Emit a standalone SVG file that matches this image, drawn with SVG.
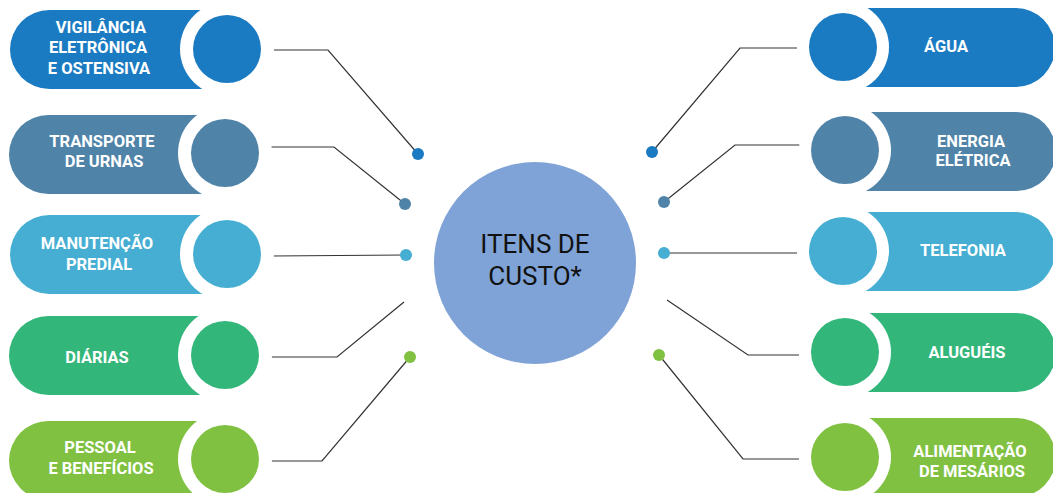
<svg xmlns="http://www.w3.org/2000/svg" width="1053" height="493" viewBox="0 0 1053 493">
<style>
.t{font-family:Roboto,"Liberation Sans",sans-serif;font-weight:700;font-size:16.5px;fill:#ffffff;text-anchor:middle}
.c{font-family:Roboto,"Liberation Sans",sans-serif;font-size:26px;fill:#111111;text-anchor:middle}
.ln{fill:none;stroke:#333333;stroke-width:1.2}
.ring{fill:#ffffff}
.b1{fill:#1b7bc2}.b2{fill:#4f83a8}.b3{fill:#45aed2}.b4{fill:#32b67a}.b5{fill:#80c142}
</style>
<rect width="1053" height="493" fill="#ffffff"/>
<g id="center">
<circle cx="535" cy="263" r="101" fill="#7fa3d6"/>
<text class="c" x="535" y="253">ITENS DE</text>
<text class="c" x="535" y="285">CUSTO*</text>
</g>
<g id="connectors">
<polyline class="ln" points="266,50 328,50 418,154"/>
<polyline class="ln" points="268,147 334,147 405,204"/>
<polyline class="ln" points="272,256 405,255"/>
<polyline class="ln" points="270,357 337,357 404,302"/>
<polyline class="ln" points="270,461 322,461 410,357"/>
<polyline class="ln" points="652,152 740,48 797,48"/>
<polyline class="ln" points="664,202 735,145 802,145"/>
<polyline class="ln" points="664,253 802,253"/>
<polyline class="ln" points="667,300 748,355 799,355"/>
<polyline class="ln" points="659,355 743,459 799,459"/>
<circle class="b1" cx="418" cy="154" r="6"/>
<circle class="b2" cx="405" cy="204" r="6"/>
<circle class="b3" cx="406" cy="255" r="6"/>
<circle class="b5" cx="410" cy="357" r="6"/>
<circle class="b1" cx="652" cy="152" r="6"/>
<circle class="b2" cx="664" cy="202" r="6"/>
<circle class="b3" cx="664" cy="253" r="6"/>
<circle class="b5" cx="659" cy="355" r="6"/>
</g>
<g id="vigilancia">
<rect class="b1" x="10" y="10" width="240" height="79" rx="39.5"/>
<circle class="ring" cx="227" cy="49" r="47"/>
<circle class="b1" cx="227" cy="49" r="34"/>
<text class="t" x="101" y="33">VIGILÂNCIA</text>
<text class="t" x="98" y="53">ELETRÔNICA</text>
<text class="t" x="99" y="74">E OSTENSIVA</text>
</g>
<g id="transporte">
<rect class="b2" x="9" y="115" width="240" height="79" rx="39.5"/>
<circle class="ring" cx="225" cy="153" r="47"/>
<circle class="b2" cx="225" cy="153" r="34"/>
<text class="t" x="102" y="147">TRANSPORTE</text>
<text class="t" x="104" y="167">DE URNAS</text>
</g>
<g id="manutencao">
<rect class="b3" x="10" y="215" width="240" height="79" rx="39.5"/>
<circle class="ring" cx="227" cy="254" r="47"/>
<circle class="b3" cx="227" cy="254" r="34"/>
<text class="t" x="97" y="249">MANUTENÇÃO</text>
<text class="t" x="99" y="270">PREDIAL</text>
</g>
<g id="diarias">
<rect class="b4" x="9" y="316" width="240" height="79" rx="39.5"/>
<circle class="ring" cx="225" cy="355" r="47"/>
<circle class="b4" cx="225" cy="355" r="34"/>
<text class="t" x="97" y="363">DIÁRIAS</text>
</g>
<g id="pessoal">
<rect class="b5" x="9" y="421" width="240" height="79" rx="39.5"/>
<circle class="ring" cx="225" cy="459" r="47"/>
<circle class="b5" cx="225" cy="459" r="34"/>
<text class="t" x="100" y="453">PESSOAL</text>
<text class="t" x="101" y="474">E BENEFÍCIOS</text>
</g>
<g id="agua">
<rect class="b1" x="805" y="8" width="250" height="79" rx="39.5"/>
<circle class="ring" cx="843" cy="47" r="46"/>
<circle class="b1" cx="843" cy="47" r="34"/>
<text class="t" x="946" y="52">ÁGUA</text>
</g>
<g id="energia">
<rect class="b2" x="806" y="112" width="250" height="79" rx="39.5"/>
<circle class="ring" cx="845" cy="150" r="46"/>
<circle class="b2" cx="845" cy="150" r="34"/>
<text class="t" x="971" y="147">ENERGIA</text>
<text class="t" x="973" y="166">ELÉTRICA</text>
</g>
<g id="telefonia">
<rect class="b3" x="805" y="212" width="250" height="79" rx="39.5"/>
<circle class="ring" cx="843" cy="251" r="46"/>
<circle class="b3" cx="843" cy="251" r="34"/>
<text class="t" x="963" y="256">TELEFONIA</text>
</g>
<g id="alugueis">
<rect class="b4" x="806" y="313" width="250" height="79" rx="39.5"/>
<circle class="ring" cx="845" cy="352" r="46"/>
<circle class="b4" cx="845" cy="352" r="34"/>
<text class="t" x="967" y="358">ALUGUÉIS</text>
</g>
<g id="alimentacao">
<rect class="b5" x="806" y="418" width="250" height="79" rx="39.5"/>
<circle class="ring" cx="845" cy="457" r="46"/>
<circle class="b5" cx="845" cy="457" r="34"/>
<text class="t" x="970" y="457">ALIMENTAÇÃO</text>
<text class="t" x="972" y="477">DE MESÁRIOS</text>
</g>
</svg>
